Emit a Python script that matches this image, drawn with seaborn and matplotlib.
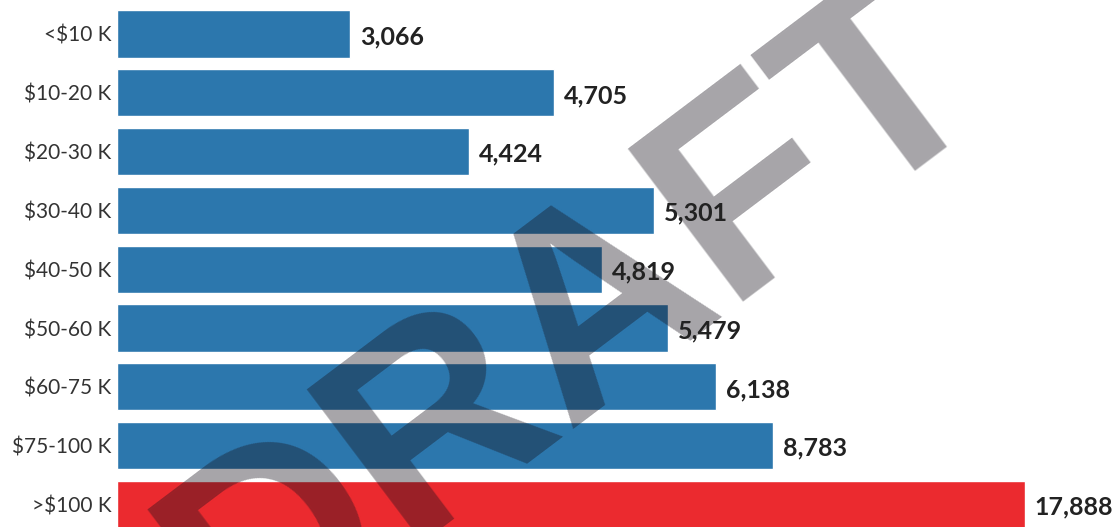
import matplotlib
matplotlib.use("Agg")
import matplotlib.pyplot as plt
import seaborn as sns
import pandas as pd

# income brackets, bar length (share of households, %), label value
brackets = ["<$10 K", "$10-20 K", "$20-30 K", "$30-40 K", "$40-50 K",
            "$50-60 K", "$60-75 K", "$75-100 K", ">$100 K"]
share = [4.9, 9.2, 7.4, 11.3, 10.2, 11.6, 12.6, 13.8, 19.1]
households = [3066, 4705, 4424, 5301, 4819, 5479, 6138, 8783, 17888]
bar_colors = ["#2c77ad"] * 8 + ["#eb2a2f"]

df = pd.DataFrame({"bracket": brackets, "share": share})

sns.set_style("white")
plt.rcParams["font.family"] = ["Lato", "DejaVu Sans"]

fig = plt.figure(figsize=(11.2, 5.27), dpi=100)
ax = fig.add_axes([117 / 1120, 0, 1 - 117 / 1120, 1])

sns.barplot(data=df, x="share", y="bracket", hue="bracket", palette=bar_colors,
            legend=False, width=0.8, saturation=1, ax=ax)

ax.set_xlim(0, 21.1)
ax.set_ylim(8.384, -0.578)
sns.despine(ax=ax, left=True, bottom=True)
ax.set_xticks([])
ax.set_xlabel("")
ax.set_ylabel("")
ax.tick_params(axis="y", length=0, pad=4, labelsize=15, labelcolor="#333333")

for i, (s, n) in enumerate(zip(share, households)):
    ax.annotate(f"{n:,}", xy=(s, i), xytext=(7, -2), textcoords="offset points",
                ha="left", va="center", fontsize=18, fontweight="bold",
                color="#222222", zorder=5, annotation_clip=False)

# draft watermark, between bars and labels
ax.text(0.515, 0.39, "DRAFT", transform=fig.transFigure, rotation=37,
        fontsize=200, fontweight="bold", family="Liberation Sans",
        color="#16121c", alpha=0.38, ha="center", va="center",
        rotation_mode="anchor", zorder=3, clip_on=False)

fig.savefig("out.png", dpi=100)
